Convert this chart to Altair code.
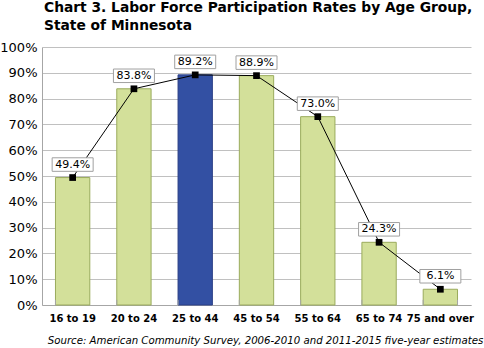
import altair as alt
import pandas as pd

categories = ["16 to 19", "20 to 24", "25 to 44", "45  to 54", "55 to 64", "65 to 74", "75 and over"]
rates = [0.494, 0.838, 0.892, 0.889, 0.730, 0.243, 0.061]
labels = ["49.4%", "83.8%", "89.2%", "88.9%", "73.0%", "24.3%", "6.1%"]
highlight = [False, False, True, False, False, False, False]
y_ticks = [0, 0.1, 0.2, 0.3, 0.4, 0.5, 0.6, 0.7, 0.8, 0.9, 1.0]

df = pd.DataFrame({"cat": categories, "rate": rates, "label": labels, "hl": highlight})

FONT = "DejaVu Sans"
xscale = alt.Scale(paddingInner=0.44, paddingOuter=0.22)
xaxis = alt.Axis(title="Source: American Community Survey, 2006-2010 and 2011-2015 five-year estimates",
                 labelAngle=0, labelFont=FONT, labelFontSize=10, labelFontWeight="bold",
                 labelColor="black", labelPadding=8, ticks=False, domainColor="#a6a6a6",
                 labelOverlap=False,
                 titleFont=FONT, titleFontSize=10.2, titleFontStyle="italic", titleFontWeight="normal",
                 titleColor="black", titlePadding=12, titleX=223, titleAlign="center")
yscale = alt.Scale(domain=[0, 1], nice=False)
yaxis = alt.Axis(title=None, format=".0%", values=y_ticks, labelOverlap=False,
                 labelFont=FONT, labelFontSize=13, labelColor="black", labelPadding=5,
                 ticks=False, domainColor="#a6a6a6", gridColor="#c0c0c0", gridOpacity=1)


def X(band=0.5):
    return alt.X("cat:N", sort=categories, scale=xscale, axis=xaxis, bandPosition=band)


def Y(field="rate:Q"):
    return alt.Y(field, scale=yscale, axis=yaxis)


base = alt.Chart(df).transform_calculate(zero="0", tick="0.02")

bars = base.mark_bar(strokeWidth=1).encode(
    x=X(), y=Y(),
    color=alt.Color("hl:N", scale=alt.Scale(domain=[False, True], range=["#d3e09a", "#3350a3"]), legend=None),
    stroke=alt.Stroke("hl:N", scale=alt.Scale(domain=[False, True], range=["#9aab5c", "#2a3f86"]), legend=None),
)

ticks = base.mark_rule(color="#a6a6a6").encode(
    x=X(0), y=Y("zero:Q"), y2="tick:Q",
)
ticks_end = base.transform_filter(alt.datum.cat == categories[-1]).mark_rule(color="#a6a6a6").encode(
    x=X(1), y=Y("zero:Q"), y2="tick:Q",
)

line = base.mark_line(color="black", strokeWidth=1).encode(x=X(), y=Y())
pts = base.mark_point(shape="square", filled=True, color="black", size=45, opacity=1).encode(x=X(), y=Y())

box_shape = "M-1,-0.33L1,-0.33L1,0.33L-1,0.33Z"
boxes = base.mark_point(shape=box_shape, filled=False, fill="white", fillOpacity=1, stroke="#a0a0a0",
                        strokeWidth=1, size=41 * 41, yOffset=-13, opacity=1).encode(x=X(), y=Y())
texts = base.mark_text(font=FONT, fontSize=11, color="black", yOffset=-13, baseline="middle").encode(
    x=X(), y=Y(), text="label:N")

chart = alt.layer(bars, ticks, ticks_end, line, pts, boxes, texts).properties(
    width=429, height=258,
    title=alt.TitleParams(["Chart 3. Labor Force Participation Rates by Age Group,", "State of Minnesota"],
                          anchor="start", frame="group", font=FONT, fontSize=13.8, fontWeight="bold",
                          color="black", offset=8, lineHeight=18, dx=2),
    padding={"left": 42, "top": 47, "right": 13, "bottom": 43},
    autosize=alt.AutoSizeParams(type="none"),
).configure_view(stroke=None)

chart.save("out.html", embed_options={"renderer": "svg", "actions": False})
